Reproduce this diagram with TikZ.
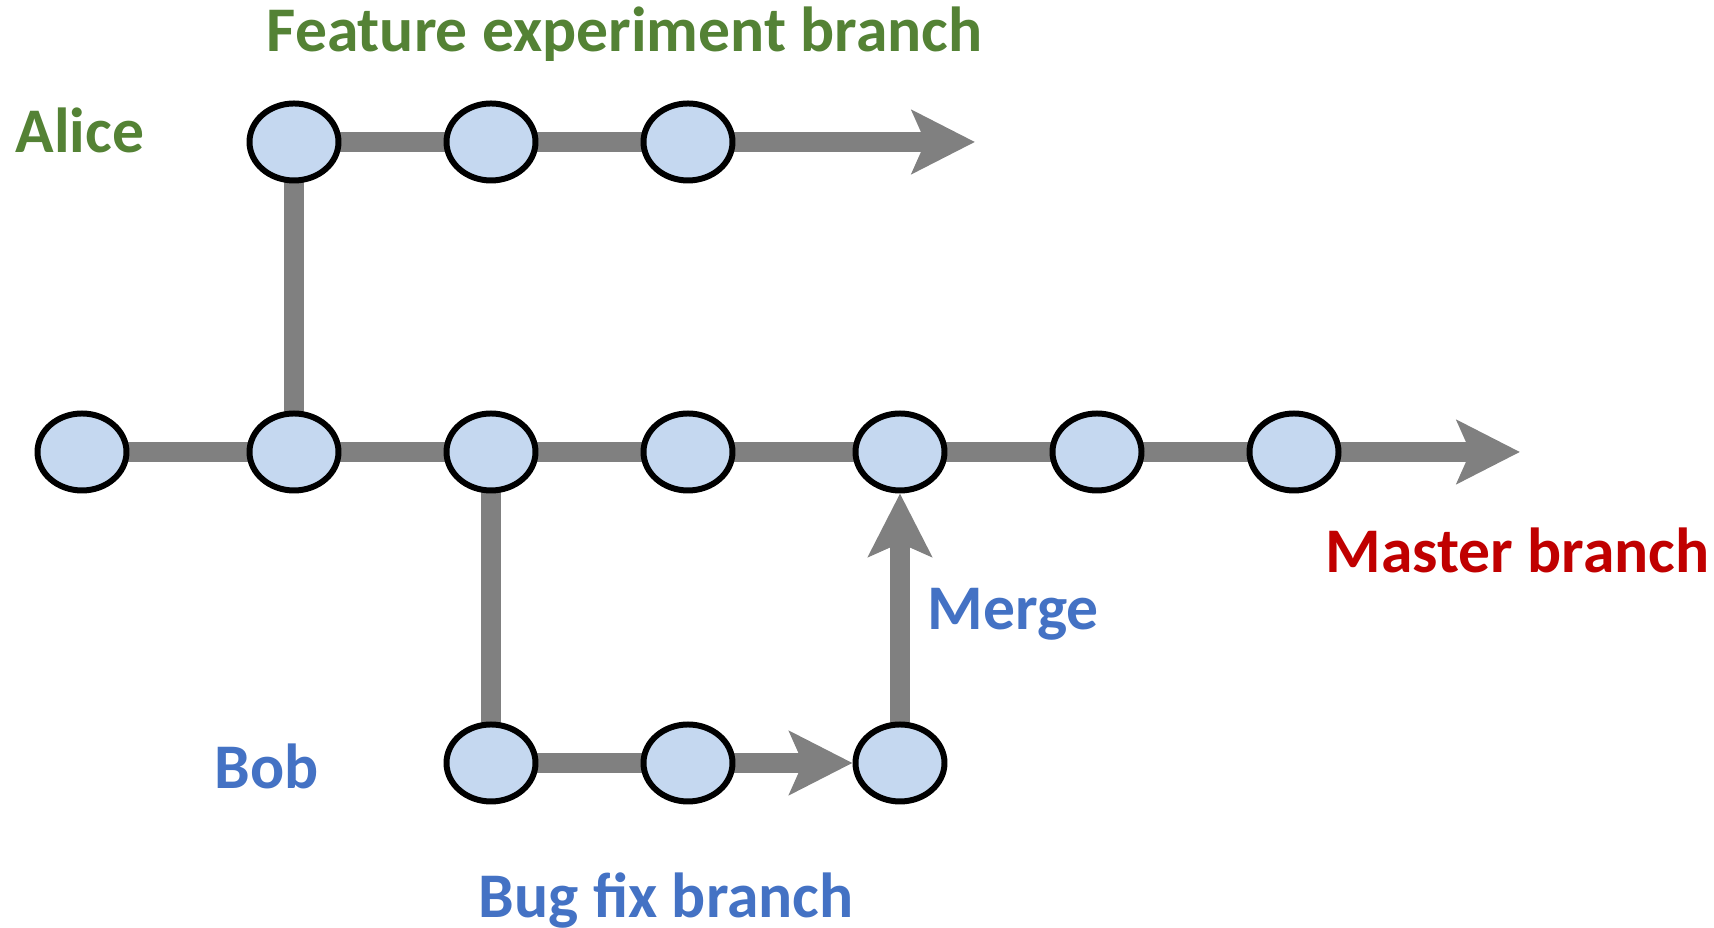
\documentclass[tikz,border=0pt]{standalone}
\usepackage{fontspec}
\setmainfont{Carlito}
\usepackage{xcolor}
\usepackage{tikz}
\usetikzlibrary{shapes.geometric,arrows.meta,backgrounds}

\definecolor{commitfill}{RGB}{197,216,240}
\definecolor{linegray}{RGB}{128,128,128}
\definecolor{alicegreen}{RGB}{84,130,53}
\definecolor{bobblue}{RGB}{68,114,196}
\definecolor{masterred}{RGB}{192,0,0}

\begin{document}
\begin{tikzpicture}[node distance=1.97cm,
    commit/.style={draw, ellipse, line width=1.7pt, fill=commitfill, minimum width=0.89cm, minimum height=0.77cm, inner sep=0pt},
    branch/.style={line width=5.8pt, draw=linegray},
    head/.style={branch, -{Stealth[length=17.9pt, width=17.9pt, inset=3.8pt, fill=linegray]}},
    btext/.style={font=\fontsize{18.1}{22}\selectfont\bfseries, inner sep=0pt, anchor=base west}]
    \useasboundingbox (-0.82,4.52) rectangle (16.32,-4.76);

    % Commits
    \node[commit] (m1) {};
    \node[commit, right of=m1, xshift=0.15cm] (m2) {};
    \node[commit, right of=m2] (m3) {};
    \node[commit, right of=m3] (m4) {};
    \node[commit, right of=m4, xshift=0.15cm] (m5) {};
    \node[commit, right of=m5] (m6) {};
    \node[commit, right of=m6] (m7) {};
    \node[commit, above of=m2, yshift=1.13cm] (f1) {};
    \node[commit, right of=f1] (f2) {};
    \node[commit, right of=f2] (f3) {};
    \node[commit, below of=m3, yshift=-1.14cm] (b1) {};
    \node[commit, right of=b1] (b2) {};
    \node[commit, below of=m5, yshift=-1.14cm] (b3) {};
    \coordinate[right of=m7, xshift=0.29cm] (mend);
    \coordinate[right of=f3, xshift=0.9cm] (fend);

    % Labels
    \node[btext, text=alicegreen] (feat) at (1.84,4.00) {Feature experiment branch};
    \node[btext, text=alicegreen] (alice) at (-0.67,2.99) {Alice};
    \node[btext, text=masterred] (master) at (12.43,-1.21) {Master branch};
    \node[btext, text=bobblue] (merge) at (8.45,-1.78) {Merge};
    \node[btext, text=bobblue] (bob) at (1.32,-3.37) {Bob};
    \node[btext, text=bobblue] (bugfix) at (3.96,-4.66) {Bug fix branch};

    % Branches
    \begin{scope}[on background layer]
    \draw[branch] (m1.center) -- (m2.center);
    \draw[branch] (m2.center) -- (m3.center);
    \draw[branch] (m3.center) -- (m4.center);
    \draw[branch] (m4.center) -- (m5.center);
    \draw[branch] (m5.center) -- (m6.center);
    \draw[branch] (m6.center) -- (m7.center);
    \draw[head] (m7.center) -- (mend);
    \draw[branch] (m2.center) -- (f1.center);
    \draw[branch] (f1.center) -- (f2.center);
    \draw[branch] (f2.center) -- (f3.center);
    \draw[head] (f3.center) -- (fend);
    \draw[branch] (m3.center) -- (b1.center);
    \draw[branch] (b1.center) -- (b2.center);
    \draw[head] (b2.center) -- (b3);
    \draw[head] (b3.center) -- (m5);
    \end{scope}
\end{tikzpicture}
\end{document}
